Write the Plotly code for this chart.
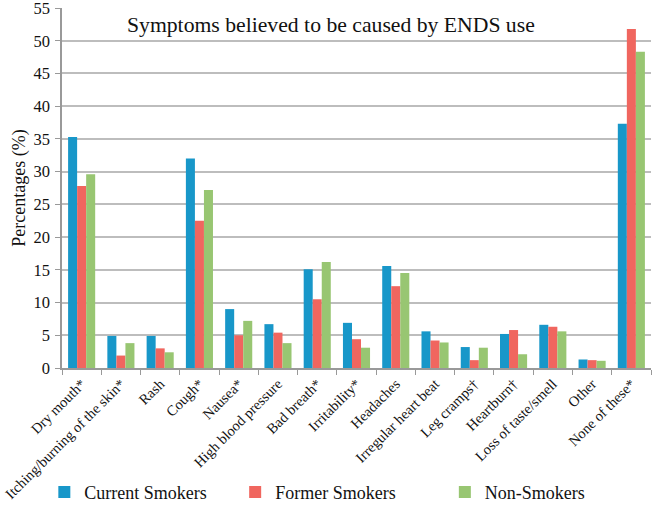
import plotly.graph_objects as go

categories = ["Dry mouth*", "Itching/burning of the skin*", "Rash", "Cough*", "Nausea*",
              "High blood pressure", "Bad breath*", "Irritability*", "Headaches",
              "Irregular heart beat", "Leg cramps†", "Heartburn†", "Loss of taste/smell",
              "Other", "None of these*"]
current_smokers = [35.3, 4.9, 4.9, 32.0, 9.0, 6.7, 15.1, 6.9, 15.6, 5.6, 3.2, 5.2, 6.6, 1.3, 37.3]
former_smokers = [27.8, 1.9, 3.0, 22.5, 5.0, 5.4, 10.5, 4.4, 12.5, 4.2, 1.2, 5.8, 6.3, 1.2, 51.8]
non_smokers = [29.6, 3.8, 2.4, 27.2, 7.2, 3.8, 16.2, 3.1, 14.5, 3.9, 3.1, 2.1, 5.6, 1.1, 48.3]
y_ticks = list(range(0, 56, 5))

serif = "Liberation Serif, Times New Roman, serif"

fig = go.Figure()
series = [("Current Smokers", current_smokers, "#1897c9", "legend"),
          ("Former Smokers", former_smokers, "#f0665f", "legend2"),
          ("Non-Smokers", non_smokers, "#98c672", "legend3")]
for name, vals, col, lg in series:
    fig.add_trace(go.Bar(x=categories, y=vals, name=name, marker_color=col,
                         marker_line_width=0, legend=lg))

leg_common = dict(orientation="h", y=-0.397, yanchor="bottom", xanchor="left",
                  font=dict(size=18, family=serif, color="#111"),
                  bgcolor="rgba(0,0,0,0)", itemwidth=30)

fig.update_layout(
    width=656, height=505,
    margin=dict(l=62, r=5, t=8, b=137, autoexpand=False),
    paper_bgcolor="white", plot_bgcolor="white",
    barmode="group", bargap=0.31, bargroupgap=0,
    font=dict(family=serif, color="#222", size=14),
    showlegend=True,
    legend=dict(x=-0.03, **leg_common),
    legend2=dict(x=0.294, **leg_common),
    legend3=dict(x=0.65, **leg_common),
    annotations=[dict(text="Symptoms believed to be caused by ENDS use", x=0.457, y=0.953,
                      xref="paper", yref="paper", showarrow=False,
                      xanchor="center", yanchor="middle",
                      font=dict(size=21.7, family=serif, color="#111"))],
)
fig.update_xaxes(type="category", tickangle=-45, tickson="boundaries", ticks="outside",
                 ticklen=5, tickcolor="#999", showline=True, linecolor="#999", linewidth=1.5,
                 tickfont=dict(size=14.5, family=serif, color="#111"), showgrid=False,
                 automargin=False, ticklabeloverflow="allow")
fig.update_yaxes(range=[0, 55], tickvals=y_ticks, showgrid=True, gridcolor="#bdbdbd",
                 gridwidth=1.5, showline=True, linecolor="#999", linewidth=1.5,
                 ticks="outside", ticklen=5, tickcolor="#999", ticklabelstandoff=2,
                 tickfont=dict(size=16.5, family=serif, color="#111"),
                 title=dict(text="Percentages (%)", font=dict(size=18, family=serif, color="#111"),
                            standoff=3),
                 zeroline=False, automargin=False, ticklabeloverflow="allow")

fig.write_html("out.html", config={"displayModeBar": False},
               post_script="document.body.style.margin='0';document.body.style.padding='0';")
